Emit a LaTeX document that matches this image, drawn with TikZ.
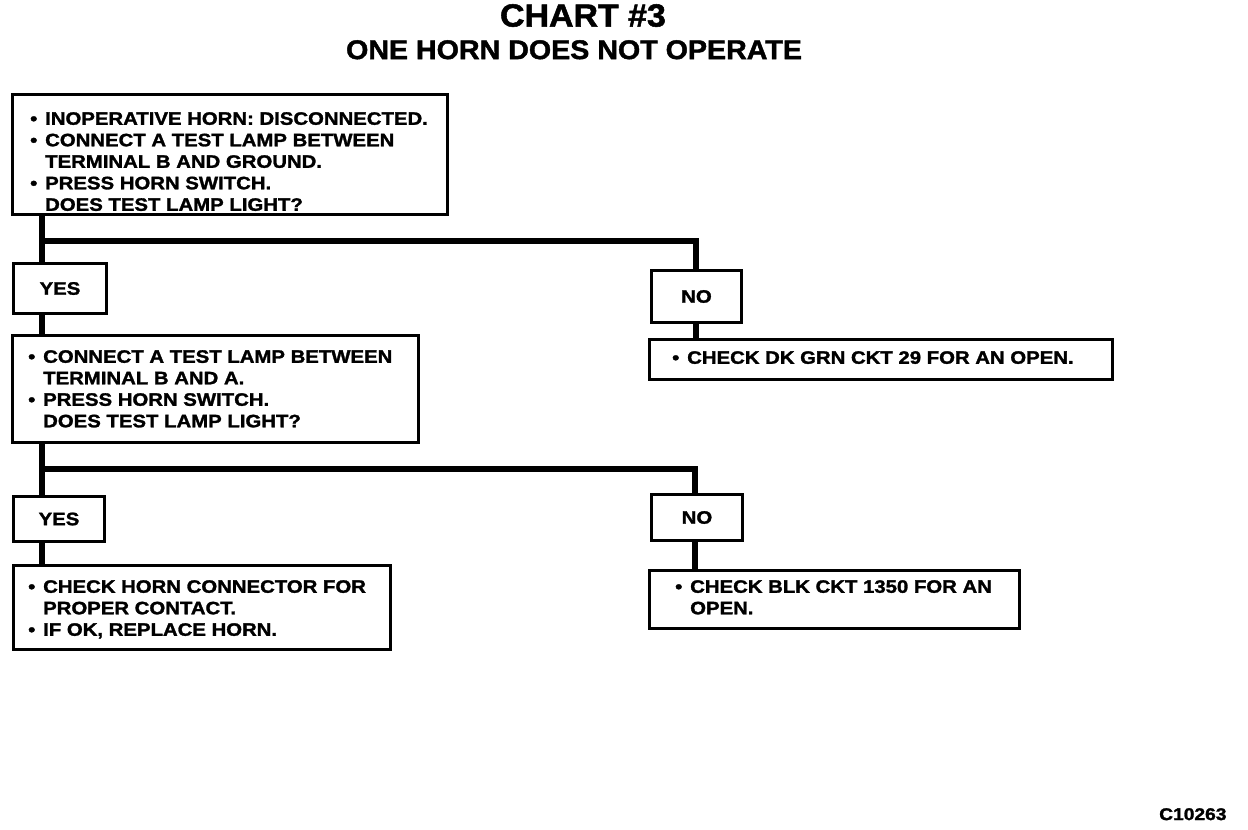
\documentclass[tikz,border=0pt]{standalone}
\usepackage{fontspec}
\setmainfont{Liberation Sans}
\newfontfamily\bodyff{Liberation Sans Bold}[FakeStretch=1.13,FakeBold=1.6]
\newfontfamily\titleff{Liberation Sans Bold}[FakeStretch=1.06,FakeBold=1.6]
\newcommand\bodyfont{\bodyff\fontsize{18}{21.5}\selectfont}
\newcommand\bul{\makebox[15pt][l]{•}}
\newcommand\ind{\hspace*{15pt}}
\tikzset{
  box/.style={draw, line width=3pt, rectangle, inner sep=0pt, anchor=north west, font=\bodyfont},
  conn/.style={line width=6pt, line join=miter, line cap=butt},
  txt/.style={inner sep=0pt, anchor=north west, align=left, font=\bodyfont},
}
\begin{document}
\begin{tikzpicture}[x=1pt,y=-1pt]
\fill[white] (0,0) rectangle (1248,830);
\useasboundingbox (0,0) rectangle (1248,830);

% title
\node[inner sep=0pt, anchor=north, font=\titleff\fontsize{32}{36}\selectfont] (title) at (583,4) {CHART \#3};
\node[inner sep=0pt, anchor=north, font=\titleff\fontsize{27}{30}\selectfont] (subtitle) at (574,40) {ONE HORN DOES NOT OPERATE};

% boxes
\node[box, minimum width=435pt, minimum height=120pt] (b1) at (11,93) {};
\node[box, minimum width=93pt,  minimum height=50pt]  (y1) at (12,262) {YES};
\node[box, minimum width=406pt, minimum height=107pt] (b2) at (11,334) {};
\node[box, minimum width=91pt,  minimum height=45pt]  (y2) at (12,495) {YES};
\node[box, minimum width=377pt, minimum height=84pt]  (b3) at (12,564) {};
\node[box, minimum width=90pt,  minimum height=52pt]  (n1) at (650,269) {NO};
\node[box, minimum width=463pt, minimum height=40pt]  (r1) at (648,338) {};
\node[box, minimum width=91pt,  minimum height=46pt]  (n2) at (650,493) {NO};
\node[box, minimum width=370pt, minimum height=58pt]  (r2) at (648,569) {};

% texts
\node[txt] (t1) at (30,112) {\bul INOPERATIVE HORN: DISCONNECTED.\\
\bul CONNECT A TEST LAMP BETWEEN\\
\ind TERMINAL B AND GROUND.\\
\bul PRESS HORN SWITCH.\\
\ind DOES TEST LAMP LIGHT?};
\node[txt] (t2) at (28,350) {\bul CONNECT A TEST LAMP BETWEEN\\
\ind TERMINAL B AND A.\\
\bul PRESS HORN SWITCH.\\
\ind DOES TEST LAMP LIGHT?};
\node[txt] (t3) at (28,580) {\bul CHECK HORN CONNECTOR FOR\\
\ind PROPER CONTACT.\\
\bul IF OK, REPLACE HORN.};
\node[txt] (tr1) at (672,351) {\bul CHECK DK GRN CKT 29 FOR AN OPEN.};
\node[txt] (tr2) at (675,580) {\bul CHECK BLK CKT 1350 FOR AN\\
\ind OPEN.};

\node[inner sep=0pt, anchor=north west, font=\bodyff\fontsize{17}{18}\selectfont] (code) at (1159,808) {C10263};

% connectors
\coordinate (j1) at (42,241);
\coordinate (j1r) at (696,241);
\coordinate (j2) at (42,469);
\coordinate (j2r) at (695,469);
\draw[conn] (j1 |- b1.south) -- (j1 |- y1.north);
\draw[conn] (j1) -- (j1r) -- (j1r |- n1.north);
\draw[conn] (j1 |- y1.south) -- (j1 |- b2.north);
\draw[conn] (j1r |- n1.south) -- (j1r |- r1.north);
\draw[conn] (j2 |- b2.south) -- (j2 |- y2.north);
\draw[conn] (j2) -- (j2r) -- (j2r |- n2.north);
\draw[conn] (j2 |- y2.south) -- (j2 |- b3.north);
\draw[conn] (j2r |- n2.south) -- (j2r |- r2.north);
\end{tikzpicture}
\end{document}
